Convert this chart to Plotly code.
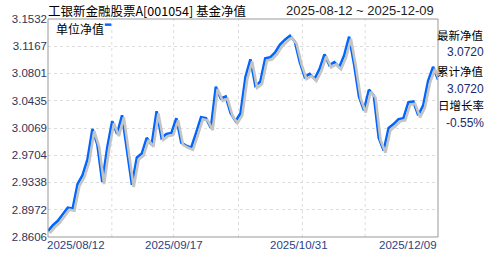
import pandas as pd
import plotly.graph_objects as go

# trading days 2025-08-12 .. 2025-12-09 (National Day holiday Oct 1-8 closed)
holidays = pd.date_range("2025-10-01", "2025-10-08")
dates = [d.strftime("%Y/%m/%d") for d in pd.bdate_range("2025-08-12", "2025-12-09") if d not in holidays]

nav = [2.8685, 2.8764, 2.8824, 2.8909, 2.9001, 2.8988, 2.9318, 2.9436, 2.9647, 3.0056,
       2.9845, 2.9344, 2.9805, 3.0161, 2.9990, 3.0240, 2.9779, 2.9305, 2.9674, 2.9726,
       2.9937, 2.9845, 3.0293, 2.9937, 2.9990, 3.0003, 3.0201, 2.9871, 2.9832, 2.9805,
       3.0003, 3.0214, 3.0201, 3.0069, 3.0623, 3.0464, 3.0491, 3.0267, 3.0161, 3.0267,
       3.0754, 3.0992, 3.0636, 3.0688, 3.1005, 3.1018, 3.1084, 3.1189, 3.1255, 3.1308,
       3.1229, 3.0952, 3.0754, 3.0794, 3.0728, 3.0860, 3.1058, 3.0913, 3.0952, 3.0886,
       3.1044, 3.1295, 3.0926, 3.0491, 3.0306, 3.0583, 3.0504, 2.9937, 2.9766, 3.0069,
       3.0122, 3.0188, 3.0201, 3.0412, 3.0425, 3.0240, 3.0372, 3.0702, 3.0890, 3.0720]

y_ticks = [2.8606, 2.8972, 2.9338, 2.9704, 3.0069, 3.0435, 3.0801, 3.1167, 3.1532]
x_labels = ["2025/08/12", "2025/09/17", "2025/10/31", "2025/12/09"]
title = "工银新金融股票A[001054] 基金净值"
date_range = "2025-08-12 ~ 2025-12-09"
legend_name = "单位净值"
latest_nav = "3.0720"
acc_nav = "3.0720"
day_change = "-0.55%"

W, H = 488, 255
L, R, T, B = 47, 438, 19, 241
PW, PH = R - L, B - T
xs = list(range(len(dates)))
n = len(dates) - 1
ylo, yhi = y_ticks[0], y_ticks[-1]


def px(xp):
    return (xp - L) / PW


def py(yp):
    return (B - yp) / PH


fig = go.Figure()
# shadow
fig.add_trace(go.Scatter(x=xs, y=nav, mode="lines", line=dict(color="#c4c4c4", width=2.6),
                         xaxis="x2", yaxis="y2", hoverinfo="skip", showlegend=False))
fig.add_trace(go.Scatter(x=xs, y=nav, mode="lines", line=dict(color="#0066ff", width=2.6),
                         text=dates, showlegend=False))

grid_fracs = [px(g) for g in [111, 173, 238, 302, 365]]
shapes = []
for f in grid_fracs:
    shapes.append(dict(type="line", xref="paper", yref="paper", x0=f, x1=f, y0=0, y1=1,
                       line=dict(color="#dddddd", width=1, dash="dot"), layer="below"))
shapes.append(dict(type="rect", xref="paper", yref="paper", x0=0, x1=1, y0=0, y1=1,
                   line=dict(color="#999999", width=1)))
# legend swatch
shapes.append(dict(type="rect", xref="paper", yref="paper", x0=px(104), x1=px(110.5), y0=py(26), y1=py(23.5),
                   line=dict(width=0), fillcolor="#0066ff"))

annotations = []
font_lat = "Arial, Liberation Sans, sans-serif"
font_cjk = "Noto Sans CJK SC, sans-serif"
# x labels
label_pos = [(0, "left", -3), (grid_fracs[1], "center", 0), (grid_fracs[3], "center", -3), (1, "right", 1)]
for txt, (fx, anc, dx) in zip(x_labels, label_pos):
    annotations.append(dict(text=txt, xref="paper", yref="paper", x=fx, y=0, xanchor=anc, yanchor="top",
                            xshift=dx, yshift=0, showarrow=False,
                            font=dict(family=font_lat, size=11.5, color="#2a3f7f")))
# title
annotations.append(dict(text=title, xref="paper", yref="paper", x=0, y=py(10), xanchor="left", yanchor="middle",
                        xshift=-2, showarrow=False, font=dict(family=font_cjk, size=12.5, color="#000000")))
annotations.append(dict(text=date_range, xref="paper", yref="paper", x=1, y=py(10), xanchor="right", yanchor="middle",
                        xshift=-2, showarrow=False, font=dict(family=font_lat, size=13, color="#222222")))
# legend text
annotations.append(dict(text=legend_name, xref="paper", yref="paper", x=px(53), y=py(29), xanchor="left",
                        yanchor="middle", showarrow=False,
                        font=dict(family=font_cjk, size=12, color="#000000")))
# right panel
right = [("最新净值", "#000000", font_cjk, 35), (latest_nav, "#1a2a6c", font_lat, 53),
         ("累计净值", "#000000", font_cjk, 72), (acc_nav, "#1a2a6c", font_lat, 90),
         ("日增长率", "#000000", font_cjk, 107), (day_change, "#1a2a6c", font_lat, 125)]
for txt, col, fam, ypix in right:
    annotations.append(dict(text=txt, xref="paper", yref="paper", x=px(486), y=py(ypix),
                            xanchor="right", yanchor="middle", showarrow=False,
                            font=dict(family=fam, size=11.5 if fam == font_cjk else 12, color=col)))

# shadow offset: ~1.8 px right, 2.2 px down (via shifted axis ranges)
sx = 1.8 * n / PW
sy = 2.2 * (yhi - ylo) / PH
fig.update_layout(
    width=W, height=H, margin=dict(l=L, r=W - R, t=T, b=H - B),
    paper_bgcolor="white", plot_bgcolor="white",
    xaxis=dict(range=[0, n], showgrid=False, zeroline=False, showticklabels=False),
    xaxis2=dict(range=[-sx, n - sx], overlaying="x", visible=False),
    yaxis=dict(range=[ylo, yhi], tickvals=y_ticks, ticktext=[f"{v:.4f}" for v in y_ticks],
               showgrid=True, gridcolor="#dddddd", griddash="dot", gridwidth=1, zeroline=False,
               tickfont=dict(family=font_lat, size=11.5, color="#333355"), ticks="", ticklen=0),
    yaxis2=dict(range=[ylo + sy, yhi + sy], overlaying="y", visible=False),
    shapes=shapes, annotations=annotations, showlegend=False,
)
fig.write_html("out.html")
